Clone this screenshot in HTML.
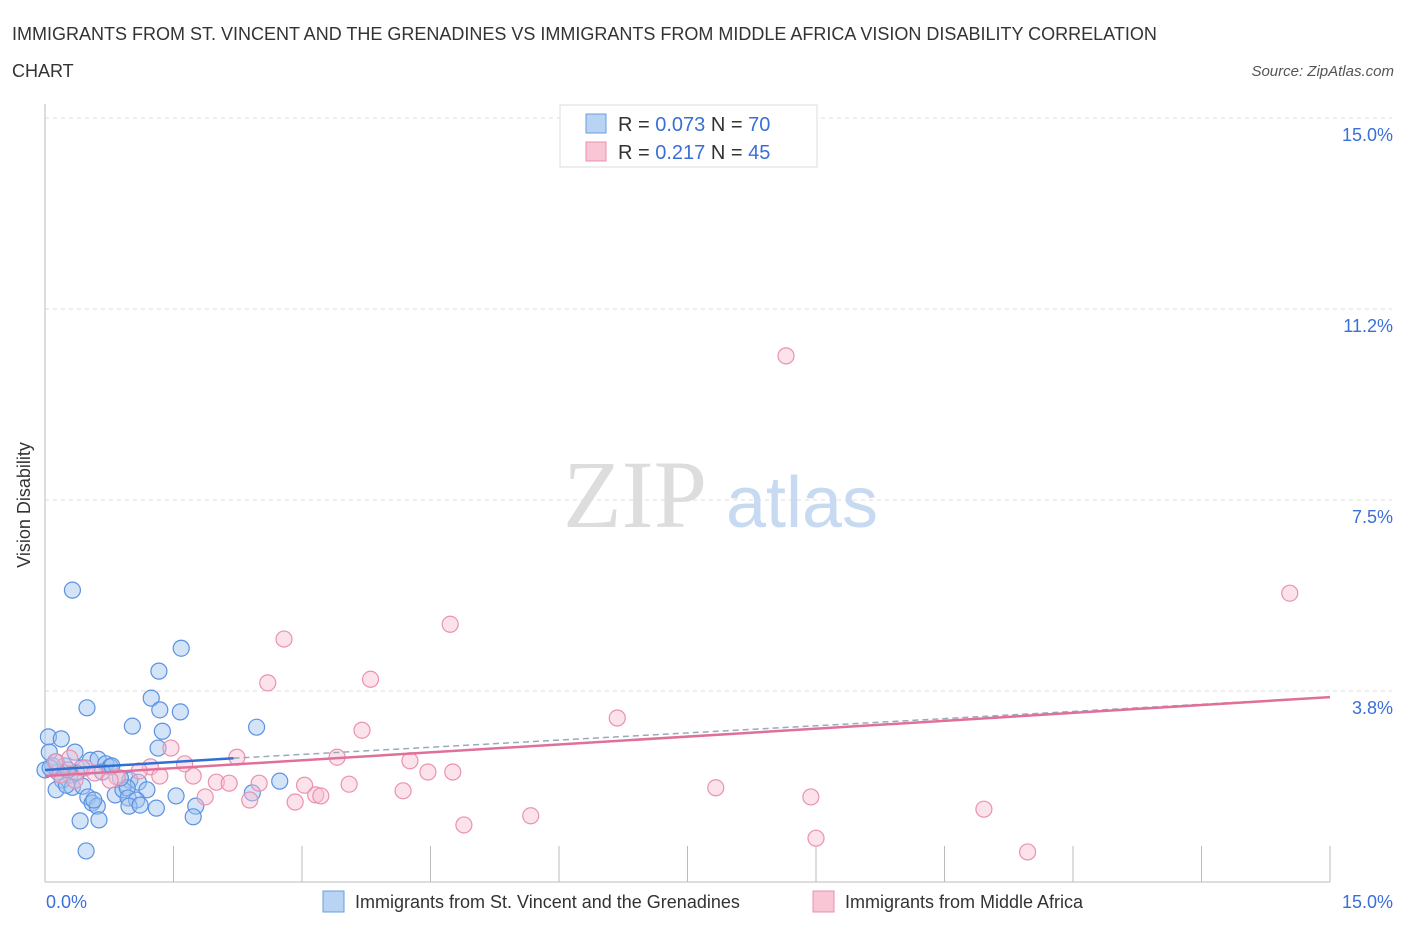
<!DOCTYPE html>
<html><head><meta charset="utf-8"><style>
body{margin:0;background:#fff;font-family:"Liberation Sans",sans-serif;}
</style></head><body>
<svg width="1406" height="930" xmlns="http://www.w3.org/2000/svg">
<text x="12" y="40" font-size="18" fill="#333">IMMIGRANTS FROM ST. VINCENT AND THE GRENADINES VS IMMIGRANTS FROM MIDDLE AFRICA VISION DISABILITY CORRELATION</text>
<text x="12" y="77" font-size="18" fill="#333">CHART</text>
<text x="1394" y="76" font-size="15" fill="#555" font-style="italic" text-anchor="end">Source: ZipAtlas.com</text>
<g id="grid"></g>
<g>
<text x="635" y="527" font-size="96" font-family="Liberation Serif,serif" fill="#ddd" text-anchor="middle">ZIP</text>
<text x="802" y="527" font-size="72" fill="#c8daf2" text-anchor="middle">atlas</text>
</g>
<g id="axes"></g>
<g id="pts"></g>
<g id="trends"></g>
<text x="18" y="493" font-size="18" fill="#333" transform="rotate(-90 30 493)" text-anchor="middle">Vision Disability</text>
<g>
<rect x="560" y="105" width="257" height="62" fill="#fff" stroke="#ddd"/>
<rect x="586" y="114" width="20" height="19" fill="#b9d3f5" stroke="#6a9ee0"/>
<rect x="586" y="142" width="20" height="19" fill="#f8c6d5" stroke="#e890ab"/>
<text x="618" y="131" font-size="20" fill="#333">R = <tspan fill="#3a6fd8">0.073</tspan>   N = <tspan fill="#3a6fd8">70</tspan></text>
<text x="618" y="159" font-size="20" fill="#333">R =  <tspan fill="#3a6fd8">0.217</tspan>   N = <tspan fill="#3a6fd8">45</tspan></text>
</g>
<g>
<rect x="323" y="891" width="21" height="21" fill="#b9d3f5" stroke="#6a9ee0"/>
<text x="355" y="908" font-size="18" fill="#333">Immigrants from St. Vincent and the Grenadines</text>
<rect x="813" y="891" width="21" height="21" fill="#f8c6d5" stroke="#e890ab"/>
<text x="845" y="908" font-size="18" fill="#333">Immigrants from Middle Africa</text>
</g>
</svg>
<script>
const yTicks=[3.75,7.5,11.25,15];
const yTickLabels=["3.8%","7.5%","11.2%","15.0%"];
const xTicks=[0,1.5,3,4.5,6,7.5,9,10.5,12,13.5,15];
const blueX=[0.32,1.59,1.33,1.24,0.49,1.34,1.58,1.02,2.47,1.37,0.04,0.19,1.32,0.35,0.05,0.53,0.62,0.71,0.09,0.23,0.43,0.76,0.15,0.29,0.37,0,0.67,0.2,0.99,0.13,0.32,0.25,0.44,1.09,2.74,0.82,0.91,0.96,1.19,0.5,0.55,0.61,0.57,0.97,1.07,1.53,2.42,0.98,1.3,1.76,0.41,0.63,1.73,0.48,0.06,0.13,0.27,0.88,1.11,0.78];
const blueY=[5.73,4.59,4.14,3.61,3.42,3.38,3.34,3.06,3.04,2.96,2.85,2.81,2.63,2.55,2.55,2.39,2.41,2.32,2.28,2.28,2.24,2.26,2.16,2.1,2.14,2.2,2.16,2.0,2.0,1.81,1.86,1.9,1.88,1.96,1.98,1.71,1.81,1.85,1.81,1.67,1.55,1.49,1.61,1.65,1.61,1.69,1.75,1.49,1.45,1.49,1.2,1.22,1.28,0.61,2.24,2.36,2.2,2.04,1.51,2.28];
const pinkX=[8.65,14.53,4.73,2.79,2.6,3.8,6.68,3.7,1.47,2.24,3.41,4.26,1.63,1.23,1.1,4.47,4.76,1.34,1.73,0.84,2.0,2.15,2.5,3.03,3.55,4.18,7.83,1.87,2.39,2.92,3.16,3.22,8.94,10.96,5.67,4.89,9.0,11.47,0.12,0.29,0.47,0.58,0.18,0.35,0.76];
const pinkY=[10.33,5.67,5.06,4.77,3.91,3.98,3.22,2.98,2.63,2.45,2.45,2.38,2.32,2.26,2.18,2.16,2.16,2.08,2.08,2.06,1.96,1.94,1.94,1.9,1.92,1.79,1.85,1.67,1.61,1.57,1.71,1.69,1.67,1.43,1.3,1.12,0.86,0.59,2.36,2.43,2.24,2.14,2.1,2.0,2.0];
const blueTrend=[[0,2.2],[2.2,2.43],[15,3.63]];
const pinkTrend=[[0,2.08],[15,3.63]];
const X0=45,X1=1330,Y0=882,Y1=118;
const sx=v=>X0+v/15*(X1-X0), sy=v=>Y0-v/15*(Y0-Y1);
const NS="http://www.w3.org/2000/svg";
function mk(t,a,p){const e=document.createElementNS(NS,t);for(const k in a)e.setAttribute(k,a[k]);p.appendChild(e);return e;}
const grid=document.getElementById('grid'),axes=document.getElementById('axes');
yTicks.forEach((t,i)=>{
 const l=mk('line',{x1:X0,x2:1392,y1:sy(t),y2:sy(t),stroke:'#ddd','stroke-dasharray':'4,4'},grid);
 
 
 const tx=mk('text',{x:1393,y:sy(t)+23,'font-size':18,fill:'#3a6fd8','text-anchor':'end'},axes);
 tx.textContent=yTickLabels[i];
 
 
});
mk('line',{x1:X0,x2:X0,y1:104,y2:Y0,stroke:'#bbb'},axes);
mk('line',{x1:X0,x2:X1,y1:Y0,y2:Y0,stroke:'#bbb'},axes);
xTicks.forEach(t=>{const l=mk('line',{x1:sx(t),x2:sx(t),y1:Y0,y2:Y0-36,stroke:'#bbb'},axes);
 
 });
let a=mk('text',{x:46,y:908,'font-size':18,fill:'#3a6fd8'},axes);a.textContent="0.0%";

a=mk('text',{x:1393,y:908,'font-size':18,fill:'#3a6fd8','text-anchor':'end'},axes);a.textContent="15.0%";

const pts=document.getElementById('pts');
blueX.forEach((x,i)=>{const c=mk('circle',{cx:sx(x),cy:sy(blueY[i]),r:8,fill:'rgba(160,196,240,0.45)',stroke:'#5b92e0','stroke-width':1.2},pts);
 
 });
pinkX.forEach((x,i)=>{const c=mk('circle',{cx:sx(x),cy:sy(pinkY[i]),r:8,fill:'rgba(248,190,208,0.45)',stroke:'#ea92ae','stroke-width':1.2},pts);
 
 });
const tr=document.getElementById('trends');
let l=mk('line',{x1:sx(blueTrend[1][0]),y1:sy(blueTrend[1][1]),x2:sx(blueTrend[2][0]),y2:sy(blueTrend[2][1]),stroke:'#9ab','stroke-width':1.5,'stroke-dasharray':'6,4'},tr);

l=mk('line',{x1:sx(pinkTrend[0][0]),y1:sy(pinkTrend[0][1]),x2:sx(pinkTrend[1][0]),y2:sy(pinkTrend[1][1]),stroke:'#e0709a','stroke-width':2.5},tr);

l=mk('line',{x1:sx(blueTrend[0][0]),y1:sy(blueTrend[0][1]),x2:sx(blueTrend[1][0]),y2:sy(blueTrend[1][1]),stroke:'#2f6fd6','stroke-width':2.5},tr);

</script>
</body></html>
